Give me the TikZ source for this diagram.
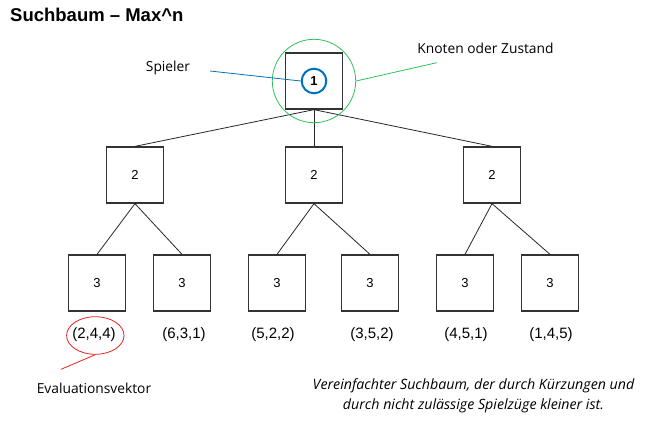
\documentclass[tikz,border=0pt]{standalone}
\usepackage{fontspec}
\setmainfont{Liberation Sans}
\newfontfamily\notefont{Open Sans}
\usepackage{tikz}
\usetikzlibrary{shapes.geometric}
\def\bw{57pt}
\tikzset{
  zustand/.style={draw=black!80, line width=1.3pt, minimum width=\bw, minimum height=56pt, inner sep=0pt, font=\fontsize{13}{15}\selectfont},
  kante/.style={line width=0.8pt, black!85},
  vektor/.style={font=\fontsize{15}{17}\selectfont},
  notiz/.style={font=\notefont\fontsize{13.8}{16}\selectfont, inner sep=0pt}
}
\definecolor{spielerblau}{HTML}{0070C0}
\definecolor{gruen}{HTML}{2EC25A}
\definecolor{rot}{HTML}{EE2020}

\begin{document}
\begin{tikzpicture}[x=1pt, y=-1pt]
\useasboundingbox (0,0) rectangle (651,423);

\node[anchor=west, inner sep=0pt, font=\fontsize{18.5}{20}\selectfont\bfseries] (titel) at (10,15) {Suchbaum -- Max\^{}n};

% Baum
\node[zustand] (wurzel) at (314,81) {};
\node[draw=spielerblau, line width=2pt, circle, minimum size=24.6pt, inner sep=0pt, font=\fontsize{13}{15}\selectfont\bfseries] (spieler) at (314,81) {1};

\node[zustand] (a) at (135,175) {2};
\node[zustand] (b) at (314,175) {2};
\node[zustand] (c) at (492,175) {2};

\foreach \n/\x in {a1/97, a2/182, b1/277, b2/370, c1/465, c2/550}{
  \node[zustand] (\n) at (\x,283) {3};
}

\foreach \k in {a, b, c}{
  \draw[kante] (wurzel.south) -- (\k.north);
  \draw[kante] (\k.south) -- (\k1.north);
  \draw[kante] (\k.south) -- (\k2.north);
}

% Evaluationsvektoren
\node[vektor] (v1) at (94,335) {(2,4,4)};
\node[vektor] (v2) at (184,335) {(6,3,1)};
\node[vektor] (v3) at (273,335) {(5,2,2)};
\node[vektor] (v4) at (372,335) {(3,5,2)};
\node[vektor] (v5) at (466,335) {(4,5,1)};
\node[vektor] (v6) at (551,335) {(1,4,5)};

% Markierungen
\node[draw=gruen, line width=0.8pt, circle, minimum size=83.4pt] (knotenkreis) at (314,81) {};
\node[draw=rot, line width=0.8pt, ellipse, minimum width=57.4pt, minimum height=37.6pt] (vektorkreis) at (95.3,335.5) {};

\node[notiz] (lblspieler) at (168,68) {Spieler};
\coordinate (spielerende) at (210,71);
\draw[spielerblau, line width=0.8pt] (spielerende) -- (spieler.west);

\node[notiz] (lblknoten) at (485.5,48) {Knoten oder Zustand};
\coordinate (knotenende) at (436.7,62.7);
\draw[gruen, line width=0.8pt] (knotenkreis.east) -- (knotenende);

\node[notiz] (lblvektor) at (94,388) {Evaluationsvektor};
\coordinate (vektorende) at (61,369.3);
\draw[rot, line width=0.8pt] (vektorkreis.south) -- (vektorende);

\node[notiz, font=\notefont\itshape\fontsize{14.2}{20}\selectfont, align=center] (hinweis) at (473.5,396) {Vereinfachter Suchbaum, der durch Kürzungen und\\durch nicht zulässige Spielzüge kleiner ist.};
\end{tikzpicture}
\end{document}
